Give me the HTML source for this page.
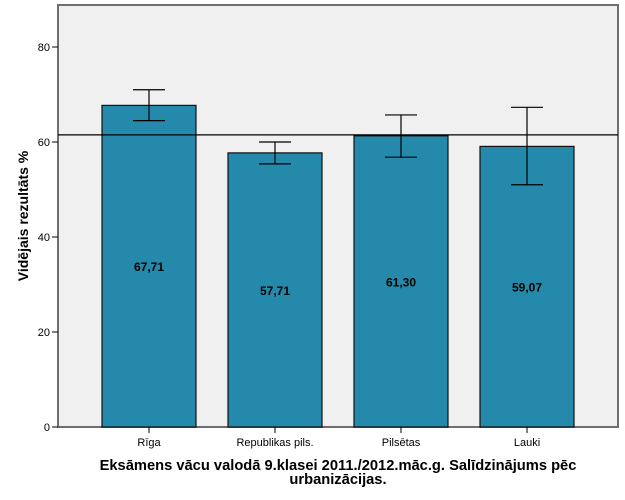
<!DOCTYPE html>
<html><head><meta charset="utf-8"><style>
body{margin:0;background:#fff;}
svg{display:block;font-family:"Liberation Sans",sans-serif;}
</style></head><body>
<svg id="chart" width="625" height="500">
<rect x="58" y="5" width="560" height="422" fill="#f0f0f0" stroke="#6e6e6e" stroke-width="2"/>
<g id="marks"></g>
<text transform="translate(28,216) rotate(-90)" text-anchor="middle" font-size="14" font-weight="bold">Vidējais rezultāts %</text>
<text x="338" y="470" text-anchor="middle" font-size="14.7" font-weight="bold">Eksāmens vācu valodā 9.klasei 2011./2012.māc.g. Salīdzinājums pēc</text>
<text x="338" y="484" text-anchor="middle" font-size="14.7" font-weight="bold">urbanizācijas.</text>
</svg>
<script>
const categories=["Rīga","Republikas pils.","Pilsētas","Lauki"];
const values=[67.71,57.71,61.30,59.07];
const valueLabels=["67,71","57,71","61,30","59,07"];
const errHigh=[71.0,60.0,65.7,67.3];
const errLow=[64.5,55.4,56.8,51.0];
const refValue=61.5;
const yTicks=[0,20,40,60,80];
const NS="http://www.w3.org/2000/svg";
const g=document.getElementById('marks');
function y(v){return 427-4.75*v;}
function xc(i){return 149+126*i;}
function mk(t,a,p){const e=document.createElementNS(NS,t);for(const k in a)e.setAttribute(k,a[k]);(p||g).appendChild(e);return e;}
yTicks.forEach(t=>{
 const l=mk('line',{x1:52,x2:58,y1:y(t),y2:y(t),stroke:'#000'});
 
 
 const tx=mk('text',{x:50,y:y(t)+4,'text-anchor':'end','font-size':11});
 tx.textContent=t;
 
 
});
values.forEach((v,i)=>{
 const c=xc(i);
 const b=mk('rect',{x:c-47,y:y(v),width:94,height:y(0)-y(v),fill:'#2489aa',stroke:'#111','stroke-width':1.2});
 
 
 const tk=mk('line',{x1:c,x2:c,y1:427,y2:433,stroke:'#000'});
 
 
 const cl=mk('text',{x:c,y:446,'text-anchor':'middle','font-size':11});
 cl.textContent=categories[i];
 
 
 const vl=mk('text',{x:c,y:(y(v)+y(0))/2+5,'text-anchor':'middle','font-size':12,'font-weight':'bold'});
 vl.textContent=valueLabels[i];
 
 
});
const rl=mk('line',{x1:58,x2:618,y1:y(refValue),y2:y(refValue),stroke:'#000','stroke-width':1.3});


values.forEach((v,i)=>{
 const c=xc(i);
 const eg=mk('g',{stroke:'#000','stroke-width':1.2});
 
 
 mk('line',{x1:c,x2:c,y1:y(errHigh[i]),y2:y(errLow[i])},eg);
 mk('line',{x1:c-16,x2:c+16,y1:y(errHigh[i]),y2:y(errHigh[i])},eg);
 mk('line',{x1:c-16,x2:c+16,y1:y(errLow[i]),y2:y(errLow[i])},eg);
});
</script>
</body></html>
